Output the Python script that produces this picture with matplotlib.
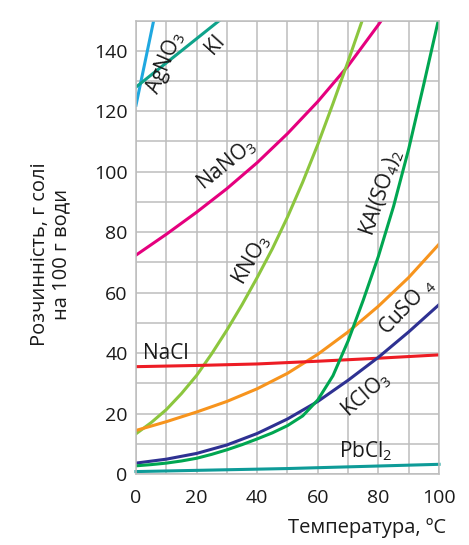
# Solubility curves of salts vs temperature
import numpy as np
import matplotlib
matplotlib.use('Agg')
import matplotlib.pyplot as plt

plt.rcParams['font.family'] = ['Open Sans', 'DejaVu Sans']
plt.rcParams['mathtext.default'] = 'regular'

# ==============================
# DATA
# ==============================
t_agno3 = [0, 5, 10]
agno3 = [122, 146, 170]

t_ki = [0, 10, 20, 30]
ki = [128, 136, 144, 152]

t_nano3 = [0, 10, 20, 30, 40, 50, 60, 70, 80, 90]
nano3 = [72.4, 79.3, 86.6, 94.4, 103, 112.6, 123.2, 135, 148.6, 163]

t_kno3 = [0, 5, 10, 15, 20, 25, 30, 35, 40, 45, 50, 55, 60, 65, 70, 75]
kno3 = [13.3, 17, 21.3, 26.6, 32.6, 39.8, 47.6, 56, 65, 74.5, 85, 96.5, 109, 122.5, 136.5, 151]

t_alum = [0, 5, 10, 15, 20, 25, 30, 35, 40, 45, 50, 55, 60, 65, 70, 75, 80, 85, 90, 95, 100]
alum = [2.7, 3.1, 3.6, 4.3, 5.2, 6.5, 8, 9.7, 11.6, 13.6, 16, 19.2, 24.5, 32.5, 44, 57.5, 72, 88.5, 107.5, 129, 151]

t_cuso4 = [0, 10, 20, 30, 40, 50, 60, 70, 80, 90, 100]
cuso4 = [14.4, 17.3, 20.5, 24, 28.2, 33.3, 39.6, 47, 55.5, 65, 76]

t_kclo3 = [0, 10, 20, 30, 40, 50, 60, 70, 80, 90, 100]
kclo3 = [3.6, 4.9, 6.8, 9.6, 13.4, 18.2, 24, 31, 38.6, 47, 56]

t_nacl = [0, 20, 40, 60, 80, 100]
nacl = [35.5, 35.9, 36.4, 37.3, 38.3, 39.4]

t_pbcl2 = [0, 50, 100]
pbcl2 = [0.8, 1.8, 3.2]

x_ticks = [0, 20, 40, 60, 80, 100]
y_ticks = [0, 20, 40, 60, 80, 100, 120, 140]

# ==============================
# FIGURE
# ==============================
fig = plt.figure(figsize=(4.69, 5.45), dpi=100)
ax = fig.add_axes([0.29, 0.1303, 0.646, 0.832])

ax.set_xlim(0, 100)
ax.set_ylim(0, 150)
ax.set_xticks(np.arange(0, 101, 10))
ax.set_yticks(np.arange(0, 151, 10))
ax.grid(True, color='#bdbdbd', linewidth=1.1)
ax.set_axisbelow(True)
for s in ax.spines.values():
    s.set_color('#bdbdbd')
    s.set_linewidth(1.1)

ax.set_xticklabels([str(v) if v in x_ticks else '' for v in range(0, 101, 10)])
ax.set_yticklabels([str(v) if v in y_ticks else '' for v in range(0, 151, 10)])
ax.tick_params(length=0, labelsize=14, colors='#1a1a1a')
ax.tick_params(axis='x', pad=11)
ax.tick_params(axis='y', pad=6)

lw = 2.2
ax.plot(t_agno3, agno3, color='#1fa8e0', lw=lw)
ax.plot(t_ki, ki, color='#0fa38b', lw=lw)
ax.plot(t_nano3, nano3, color='#e5007e', lw=lw)
ax.plot(t_kno3, kno3, color='#8cc63e', lw=lw)
ax.plot(t_cuso4, cuso4, color='#f7941d', lw=lw)
ax.plot(t_nacl, nacl, color='#ed1c24', lw=lw)
ax.plot(t_kclo3, kclo3, color='#2e3192', lw=lw)
ax.plot(t_alum, alum, color='#00a651', lw=lw)
ax.plot(t_pbcl2, pbcl2, color='#0e9b98', lw=lw, clip_on=False)

# curve labels
fs = 15
kw = dict(ha='center', va='center', fontsize=fs, color='#1a1a1a')
ax.text(9.6, 136, r'$AgNO_3$', rotation=67, **kw)
ax.text(26, 142, 'KI', rotation=48, **kw)
ax.text(29.8, 102.5, r'$NaNO_3$', rotation=39, **kw)
ax.text(38, 71, r'$KNO_3$', rotation=60, **kw)
ax.text(81, 93, r'$KAl(SO_4)_2$', rotation=71, **kw)
ax.text(89.6, 55.5, r'$CuSO\ _4$', rotation=46, **kw)
ax.text(75.7, 26.3, r'$KClO_3$', rotation=41, **kw)
ax.text(9.7, 39.8, 'NaCl', **kw)
ax.text(76, 7.6, r'$PbCl_2$', **kw)

fig.text(51 / 469, 1 - 254 / 545, 'Розчинність, г солі\nна 100 г води',
         rotation=90, ha='center', va='center', fontsize=14.5, color='#1a1a1a',
         linespacing=1.1)
fig.text(446 / 469, 1 - 528 / 545, 'Температура, ºC', ha='right', va='center',
         fontsize=14.5, color='#1a1a1a')

fig.savefig('out.png', dpi=100)
